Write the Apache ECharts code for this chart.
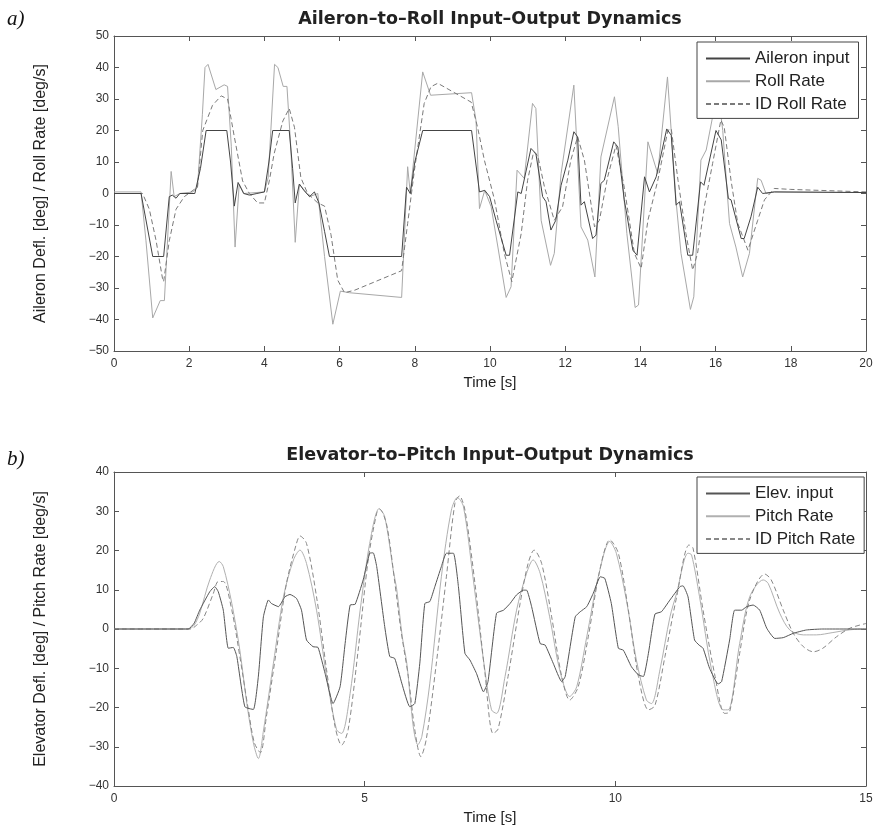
<!DOCTYPE html>
<html><head><meta charset="utf-8">
<script src="https://cdn.jsdelivr.net/npm/echarts@6/dist/echarts.min.js"></script>
<style>html,body{margin:0;padding:0;background:#fff}#c{width:876px;height:831px}</style>
</head><body><div id="c"></div>
<script>
// ---------- Data: panel a) Aileron-to-Roll (time [s], value) ----------
const aileronInput = [[0,0],[0.72,0],[1.03,-20],[1.32,-20],[1.47,-1],[1.55,-0.5],[1.65,-1.5],[1.75,0],[2.15,0],[2.3,8],[2.45,20],[3.0,20],[3.1,10],[3.2,-4],[3.3,3.5],[3.45,0],[3.6,-0.5],[3.8,0],[4.0,0.5],[4.12,10],[4.22,20],[4.66,20],[4.75,8],[4.82,-3],[4.93,3],[5.05,1],[5.2,-1],[5.33,0.5],[5.45,-3],[5.6,-12],[5.73,-20],[7.65,-20],[7.78,2],[7.88,0],[8.0,10],[8.21,20],[9.51,20],[9.72,0.5],[9.86,1],[9.99,-1],[10.16,-8.5],[10.43,-19.6],[10.52,-19.6],[10.74,0.5],[10.83,0],[11.09,14.3],[11.22,12.7],[11.4,-1],[11.49,-2.6],[11.62,-11.6],[11.75,-8.5],[11.89,2.6],[12.07,10.6],[12.23,19.6],[12.33,18],[12.42,-3.7],[12.51,-2.6],[12.73,-14.3],[12.82,-13.2],[12.95,3.2],[13.04,4.2],[13.29,16.4],[13.4,14.8],[13.57,-2],[13.62,-5.3],[13.8,-18],[13.91,-19.6],[14.11,5.3],[14.24,0.5],[14.42,5.3],[14.7,20.5],[14.82,18.5],[14.95,-3.7],[15.04,-2.6],[15.26,-19.6],[15.39,-19.6],[15.6,3.7],[15.69,2.6],[16.01,20],[16.15,17],[16.34,-1.6],[16.41,-2],[16.68,-14.3],[16.76,-14.3],[16.94,-7.4],[17.12,2],[17.25,0],[17.56,0.5],[20,0.3]];
const rollRate = [[0,0.5],[0.72,0.5],[0.85,-15],[1.03,-39.5],[1.23,-34],[1.34,-34],[1.52,7],[1.6,-1],[1.75,0],[2.1,0.5],[2.22,2],[2.35,25],[2.42,40],[2.5,41],[2.71,33],[2.93,34.5],[3.02,34],[3.12,15],[3.22,-17],[3.33,3],[3.45,0],[4.0,0.5],[4.1,5],[4.27,41],[4.36,40],[4.5,34],[4.6,34],[4.7,15],[4.82,-15.5],[4.93,3],[5.2,-1],[5.42,0],[5.6,-20],[5.82,-41.5],[6.02,-31],[6.26,-31.5],[7.65,-33],[7.81,8.5],[7.88,0],[8.21,38.6],[8.42,31.2],[9.51,32],[9.63,23],[9.72,-4.8],[9.86,1],[10.03,-4.2],[10.21,-17],[10.43,-33],[10.56,-29.6],[10.72,7.4],[10.91,4.8],[11.13,28.6],[11.22,27],[11.36,-8.5],[11.61,-22.8],[11.71,-19],[11.89,6.3],[12.23,34.4],[12.42,-10.6],[12.6,-14.8],[12.79,-26.5],[12.95,11.6],[13.31,30.7],[13.41,21.2],[13.64,-12.7],[13.86,-36.2],[13.95,-35.4],[14.2,16.4],[14.46,6.3],[14.72,37],[14.95,-2.6],[15.08,-19],[15.33,-36.8],[15.42,-32.8],[15.61,10.6],[15.75,13.8],[15.92,24.3],[16.1,29],[16.19,20],[16.37,-9.5],[16.54,-17],[16.72,-26.5],[16.9,-19],[17.12,4.8],[17.21,4.2],[17.34,0],[17.56,0.5],[20,0.3]];
const idRollRate = [[0,0],[0.76,0],[0.94,-5],[1.12,-15],[1.29,-27],[1.32,-28],[1.47,-15],[1.65,-5],[1.87,-1],[2.1,1],[2.22,2],[2.36,20],[2.62,28],[2.85,31],[3.02,30],[3.2,18],[3.42,4],[3.6,0],[3.82,-3],[4.0,-3],[4.13,4],[4.26,12.7],[4.49,23],[4.66,27],[4.8,21],[4.97,5],[5.15,0],[5.42,-3],[5.6,-4],[5.77,-13],[5.95,-27.5],[6.13,-31.5],[6.4,-30.7],[7.65,-24.5],[7.81,-9.5],[7.99,7.4],[8.25,28.6],[8.43,33.9],[8.61,35],[9.5,29],[9.67,21],[9.85,10.6],[10.12,-2],[10.38,-19],[10.58,-28],[10.83,-12.7],[11.0,4.2],[11.16,13.2],[11.27,12],[11.45,2],[11.71,-8.5],[11.93,-4.2],[12.15,10.6],[12.33,18],[12.51,10.6],[12.78,-10.6],[12.91,-8.5],[13.13,5.3],[13.35,15.3],[13.57,2],[13.84,-19],[14.02,-23.8],[14.2,-8.5],[14.46,4],[14.73,20],[14.82,20.6],[15.0,4.2],[15.21,-12.7],[15.39,-24.3],[15.52,-19],[15.7,-4.2],[15.92,9.5],[16.14,23.3],[16.23,21],[16.41,4.2],[16.59,-9.5],[16.86,-18],[17.12,-8.5],[17.3,-2],[17.56,1.6],[18,1.3],[20,0.5]];

// ---------- Data: panel b) Elevator-to-Pitch (time [s], value) ----------
const elevInput = [[0,0],[1.48,0],[1.6,1.5],[1.71,4.8],[1.91,9.5],[2.01,10.8],[2.08,9.5],[2.18,4.8],[2.28,-4.9],[2.38,-4.7],[2.45,-7],[2.61,-19.8],[2.78,-20.5],[2.88,-12],[2.98,3.1],[3.08,7.4],[3.14,6.5],[3.28,5.7],[3.41,8.2],[3.51,8.8],[3.64,7.8],[3.74,4.8],[3.84,-2.8],[3.97,-4.5],[4.07,-4.7],[4.21,-11.3],[4.37,-19],[4.51,-14.7],[4.61,-3.7],[4.71,6.1],[4.81,6.3],[4.97,12.5],[5.1,19.3],[5.17,19.4],[5.24,15.9],[5.4,0.6],[5.5,-7],[5.6,-7.5],[5.74,-13.8],[5.9,-19.8],[6.0,-19],[6.1,-8.7],[6.2,6.5],[6.3,7],[6.4,10.8],[6.53,15.9],[6.63,19.3],[6.77,19.3],[6.87,10.8],[7.0,-6.2],[7.1,-7.9],[7.23,-11.3],[7.37,-16],[7.46,-13.4],[7.63,4],[7.77,4.8],[7.9,6.5],[8.03,8.7],[8.17,9.9],[8.23,9.9],[8.33,5.7],[8.5,-3.7],[8.6,-4.1],[8.76,-8.7],[8.93,-13.4],[9.0,-12.1],[9.2,3.1],[9.3,4.4],[9.43,5.7],[9.56,9.1],[9.7,13.3],[9.79,12.9],[9.92,6.5],[10.06,-4.9],[10.16,-5.4],[10.32,-9.6],[10.46,-11.7],[10.56,-12.1],[10.66,-6.2],[10.79,3.8],[10.92,4.4],[11.09,7.4],[11.29,10.8],[11.35,11],[11.45,8.2],[11.58,-2.8],[11.67,-4.1],[11.75,-4.9],[11.88,-10],[12.05,-14],[12.12,-13.4],[12.28,-2.8],[12.38,4.8],[12.52,4.8],[12.62,5.7],[12.75,6.1],[12.88,4.8],[13.02,0.2],[13.18,-2.4],[13.35,-2.2],[13.55,-1.1],[13.81,-0.25],[14.14,0],[15,0]];
const pitchRate = [[0,0],[1.48,0],[1.6,1],[1.71,4],[1.91,12.5],[2.1,17.2],[2.18,15.9],[2.35,6.5],[2.51,-5.4],[2.65,-19],[2.78,-29],[2.88,-33],[2.98,-26],[3.18,-8.7],[3.38,8.2],[3.58,17.6],[3.71,20.1],[3.84,16.7],[4.04,4.8],[4.24,-12],[4.44,-25.7],[4.54,-26.6],[4.71,-16.4],[4.91,4.8],[5.1,21.8],[5.29,30.7],[5.4,28.6],[5.57,15],[5.64,10],[5.75,-2],[5.84,-8.7],[5.97,-24.9],[6.06,-29.5],[6.14,-27.4],[6.3,-13.8],[6.53,13.3],[6.73,30.3],[6.85,33.5],[6.97,31.2],[7.16,13.3],[7.37,-7.9],[7.53,-20.6],[7.63,-21.5],[7.8,-12.1],[8.03,4.8],[8.23,14.2],[8.36,17.6],[8.5,14.2],[8.69,3.1],[8.89,-10.4],[9.09,-17.2],[9.23,-14.7],[9.43,-2],[9.66,13.3],[9.89,22.3],[10.02,19.3],[10.22,7.4],[10.42,-7.9],[10.62,-18.1],[10.72,-19],[10.89,-10.4],[11.09,3.1],[11.22,9],[11.45,19.3],[11.52,18.9],[11.68,8.2],[11.92,-10.4],[12.15,-20.6],[12.25,-20.6],[12.48,-3.7],[12.68,8.2],[12.95,12.5],[13.05,11.6],[13.28,4],[13.48,-0.25],[13.75,-1.5],[14.01,-1.5],[14.34,-0.9],[14.68,-0.2],[15,0]];
const idPitchRate = [[0,0],[1.52,0],[1.65,1],[1.78,2.7],[1.98,9],[2.08,12.1],[2.18,12.1],[2.35,4.8],[2.51,-7],[2.68,-20.6],[2.8,-29],[2.92,-31.5],[3.04,-22.3],[3.24,-5.4],[3.44,11.6],[3.64,21.8],[3.71,23.7],[3.84,21.8],[4.04,8.2],[4.24,-10.4],[4.41,-24.9],[4.54,-29.6],[4.67,-25.7],[4.87,-5.4],[5.07,17.6],[5.24,29.5],[5.3,30.5],[5.44,26.5],[5.6,12],[5.72,0],[5.87,-12.1],[6.0,-25.7],[6.12,-32.5],[6.23,-28],[6.43,-8.7],[6.63,13.3],[6.8,32],[6.89,33.9],[7.0,30.3],[7.2,11.6],[7.4,-11.3],[7.56,-26.6],[7.66,-25.5],[7.86,-12.1],[8.1,6.5],[8.26,16.7],[8.38,20.1],[8.53,16.7],[8.73,3.1],[8.93,-12.1],[9.09,-18.1],[9.26,-14.7],[9.46,-2],[9.69,15],[9.89,22.7],[10.06,19.3],[10.26,4.8],[10.46,-12.1],[10.66,-20.6],[10.79,-19.5],[10.99,-7],[11.22,8],[11.47,21.4],[11.55,20.6],[11.75,4.8],[11.99,-12.1],[12.18,-21.5],[12.28,-21.1],[12.48,-6.2],[12.68,7.4],[12.98,14],[13.11,12.5],[13.35,4.8],[13.55,-1.1],[13.75,-4.5],[13.95,-5.8],[14.14,-4.9],[14.41,-2],[14.68,0.2],[15,1.4]];

// ---------- Labels ----------
const titleA = 'Aileron\u2013to\u2013Roll Input\u2013Output Dynamics';
const titleB = 'Elevator\u2013to\u2013Pitch Input\u2013Output Dynamics';
const yNameA = 'Aileron Defl. [deg] / Roll Rate [deg/s]';
const yNameB = 'Elevator Defl. [deg] / Pitch Rate [deg/s]';
const xName = 'Time [s]';
const legendA = ['Aileron input', 'Roll Rate', 'ID Roll Rate'];
const legendB = ['Elev. input', 'Pitch Rate', 'ID Pitch Rate'];
const xTicksA = {min: 0, max: 20, interval: 2};
const yTicksA = {min: -50, max: 50, interval: 10};
const xTicksB = {min: 0, max: 15, interval: 5};
const yTicksB = {min: -40, max: 40, interval: 10};

const FONT = '"Liberation Sans", Arial, Helvetica, sans-serif';
const TFONT = '"DejaVu Sans", "Liberation Sans", sans-serif';
const AX = '#555';
const fmt = v => String(v).replace('-', '\u2212');

function xAxes(gi, t) {
  const base = {gridIndex: gi, type: 'value', min: t.min, max: t.max, interval: t.interval,
    axisLine: {show: true, onZero: false, lineStyle: {color: AX, width: 1}},
    axisTick: {show: true, inside: true, length: 5, lineStyle: {color: AX}},
    splitLine: {show: false}};
  return [
    Object.assign({}, base, {position: 'bottom',
      axisLabel: {color: '#333', fontSize: 12, margin: 7, fontFamily: FONT, formatter: fmt},
      name: xName, nameLocation: 'middle', nameGap: 24,
      nameTextStyle: {fontSize: 15, color: '#222', fontFamily: FONT}}),
    Object.assign({}, base, {position: 'top', axisLabel: {show: false}})
  ];
}
function yAxes(gi, t, name) {
  const base = {gridIndex: gi, type: 'value', min: t.min, max: t.max, interval: t.interval,
    axisLine: {show: true, onZero: false, lineStyle: {color: AX, width: 1}},
    axisTick: {show: true, inside: true, length: 5, lineStyle: {color: AX}},
    splitLine: {show: false}};
  return [
    Object.assign({}, base, {position: 'left',
      axisLabel: {color: '#333', fontSize: 12, margin: 5, fontFamily: FONT, formatter: fmt},
      name: name, nameLocation: 'middle', nameGap: 65,
      nameTextStyle: {fontSize: 16, color: '#222', fontFamily: FONT}}),
    Object.assign({}, base, {position: 'right', axisLabel: {show: false}})
  ];
}
function line(name, data, xi, color, dashed, smooth, z) {
  return {name: name, type: 'line', data: data, xAxisIndex: xi, yAxisIndex: xi,
    symbol: 'none', smooth: smooth || false, z: z,
    lineStyle: {color: color, width: 1, type: dashed ? [5, 3] : 'solid'},
    itemStyle: {color: color}};
}
function legend(top, names) {
  return {orient: 'vertical', left: 697, top: top, data: names,
    padding: [8, 9, 6, 8], itemWidth: 44, itemHeight: 14, itemGap: 5.7,
    borderColor: '#444', borderWidth: 1, backgroundColor: '#fff',
    itemStyle: {opacity: 0},
    textStyle: {fontSize: 17, lineHeight: 17, color: '#222', fontFamily: FONT}, selectedMode: false};
}

const chart = echarts.init(document.getElementById('c'), null, {renderer: 'canvas'});
chart.setOption({
  animation: false,
  backgroundColor: '#fff',
  title: [
    {text: titleA, left: 490, top: 10, textAlign: 'center', padding: 0,
     textStyle: {fontSize: 17.5, fontWeight: 'bold', color: '#222', fontFamily: TFONT}},
    {text: titleB, left: 490, top: 446, textAlign: 'center', padding: 0,
     textStyle: {fontSize: 17.5, fontWeight: 'bold', color: '#222', fontFamily: TFONT}}
  ],
  graphic: [
    {type: 'text', left: 7, top: 9, style: {text: 'a)', font: 'italic 21px "Liberation Serif", "Times New Roman", serif', fill: '#111'}},
    {type: 'text', left: 7, top: 449, style: {text: 'b)', font: 'italic 21px "Liberation Serif", "Times New Roman", serif', fill: '#111'}}
  ],
  grid: [
    {left: 114, top: 36, width: 752, height: 315},
    {left: 114, top: 472, width: 752, height: 314}
  ],
  xAxis: xAxes(0, xTicksA).concat(xAxes(1, xTicksB)),
  yAxis: yAxes(0, yTicksA, yNameA).concat(yAxes(1, yTicksB, yNameB)),
  legend: [legend(42, legendA), legend(477, legendB)],
  series: [
    line(legendA[1], rollRate, 0, '#a8a8a8', false, false, 2),
    line(legendA[2], idRollRate, 0, '#7a7a7a', true, false, 3),
    line(legendA[0], aileronInput, 0, '#444', false, false, 4),
    line(legendB[1], pitchRate, 2, '#b0b0b0', false, 0.3, 2),
    line(legendB[2], idPitchRate, 2, '#888', true, 0.3, 3),
    line(legendB[0], elevInput, 2, '#555', false, 0.15, 4)
  ]
});
</script></body></html>
